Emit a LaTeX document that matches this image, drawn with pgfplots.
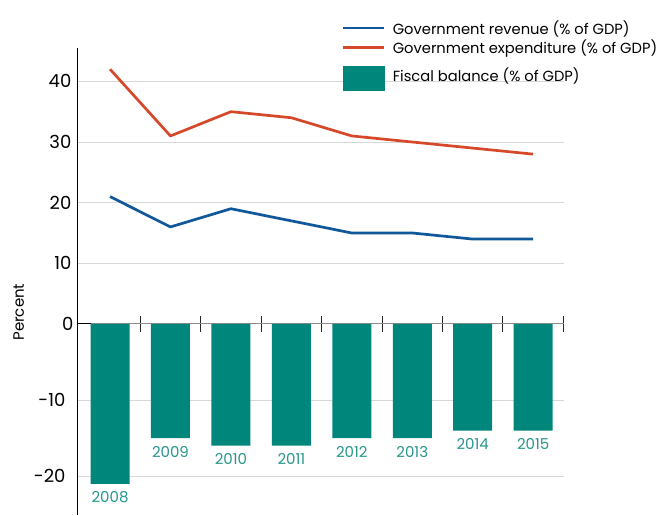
\documentclass[border=0pt]{standalone}
\usepackage{fontspec}
\setmainfont{Poppins}
\usepackage{pgfplots}
\pgfplotsset{compat=1.18}
\definecolor{revblue}{RGB}{16,88,154}
\definecolor{exporange}{RGB}{214,72,42}
\definecolor{balteal}{RGB}{0,134,122}
\definecolor{yearteal}{RGB}{38,150,138}
\definecolor{gridgray}{RGB}{216,216,216}
\begin{document}
\begin{tikzpicture}[x=1pt,y=1pt]
\path[use as bounding box] (0,0) rectangle (657,516);
\begin{axis}[
  at={(78pt,192pt)}, anchor=south west,
  scale only axis, width=486pt, height=276pt,
  xmin=-0.53, xmax=7.51, ymin=0, ymax=45.5,
  axis x line=none, axis y line=left,
  axis line style={-, black, line width=1pt},
  xtick=\empty,
  ytick={10,20,30,40}, ymajorgrids,
  grid style={gridgray, line width=0.9pt},
  y tick style={draw=none},
  yticklabel style={font=\fontsize{18}{20}\selectfont, xshift=-1pt},
  /pgf/number format/assume math mode=true,
  legend cell align=left,
  legend style={at={(rel axis cs:0.543,1.108)}, anchor=north west, draw=none, fill=none,
    inner sep=0pt, font=\fontsize{14.7}{16}\selectfont, row sep=0pt,
    /tikz/every odd column/.append style={column sep=5pt}},
]
\addplot[revblue, line width=2.7pt, line join=round, mark=none,
  legend image code/.code={\draw[revblue, line width=2.7pt] (0pt,0pt) -- (41pt,0pt);}]
  coordinates {(0,21) (1,16) (2,19) (3,17) (4,15) (5,15) (6,14) (7,14)};
\addlegendentry{Government revenue (\% of GDP)}
\addplot[exporange, line width=2.7pt, line join=round, mark=none,
  legend image code/.code={\draw[exporange, line width=2.7pt] (0pt,0pt) -- (41pt,0pt);}]
  coordinates {(0,42) (1,31) (2,35) (3,34) (4,31) (5,30) (6,29) (7,28)};
\addlegendentry{Government expenditure (\% of GDP)}
\addlegendimage{legend image code/.code={\path[draw=none, fill=none] (0pt,-15pt) rectangle (42pt,19pt); \fill[balteal, draw=none] (0pt,-15pt) rectangle (42pt,10pt);}}
\addlegendentry{Fiscal balance (\% of GDP)}
\end{axis}
\begin{axis}[
  at={(78pt,1pt)}, anchor=south west,
  scale only axis, width=486pt, height=191pt,
  xmin=-0.53, xmax=7.51, ymin=-25.1, ymax=0,
  axis y line=left, axis x line=top,
  axis line style={-},
  y axis line style={black, line width=1pt},
  x axis line style={black!45, line width=1pt},
  xtick={0.5,1.5,...,7.5}, xticklabels={}, xtick align=center,
  major tick length=16pt,
  x tick style={black!85, line width=0.9pt},
  ytick={-20,-10}, ymajorgrids,
  grid style={gridgray, line width=0.9pt},
  y tick style={draw=none},
  extra y ticks={0}, extra y tick labels={0},
  extra y tick style={grid=none, y tick style={draw=black, line width=1pt}, major tick length=13pt, tick align=inside},
  yticklabel style={font=\fontsize{18}{20}\selectfont, xshift=-1pt},
  /pgf/number format/assume math mode=true,
  ylabel={Percent},
  ylabel style={at={(rel axis cs:-0.122,1.062)}, anchor=center, font=\fontsize{15}{17}\selectfont},
]
\addplot[ybar, bar width=39pt, fill=balteal, draw=none,
  nodes near coords, point meta=explicit symbolic,
  every node near coord/.append style={font=\fontsize{15}{17}\selectfont, text=yearteal, anchor=north, yshift=-4.5pt}]
  coordinates {(0,-21) [2008] (1,-15) [2009] (2,-16) [2010] (3,-16) [2011] (4,-15) [2012] (5,-15) [2013] (6,-14) [2014] (7,-14) [2015]};
\end{axis}
\end{tikzpicture}
\end{document}
